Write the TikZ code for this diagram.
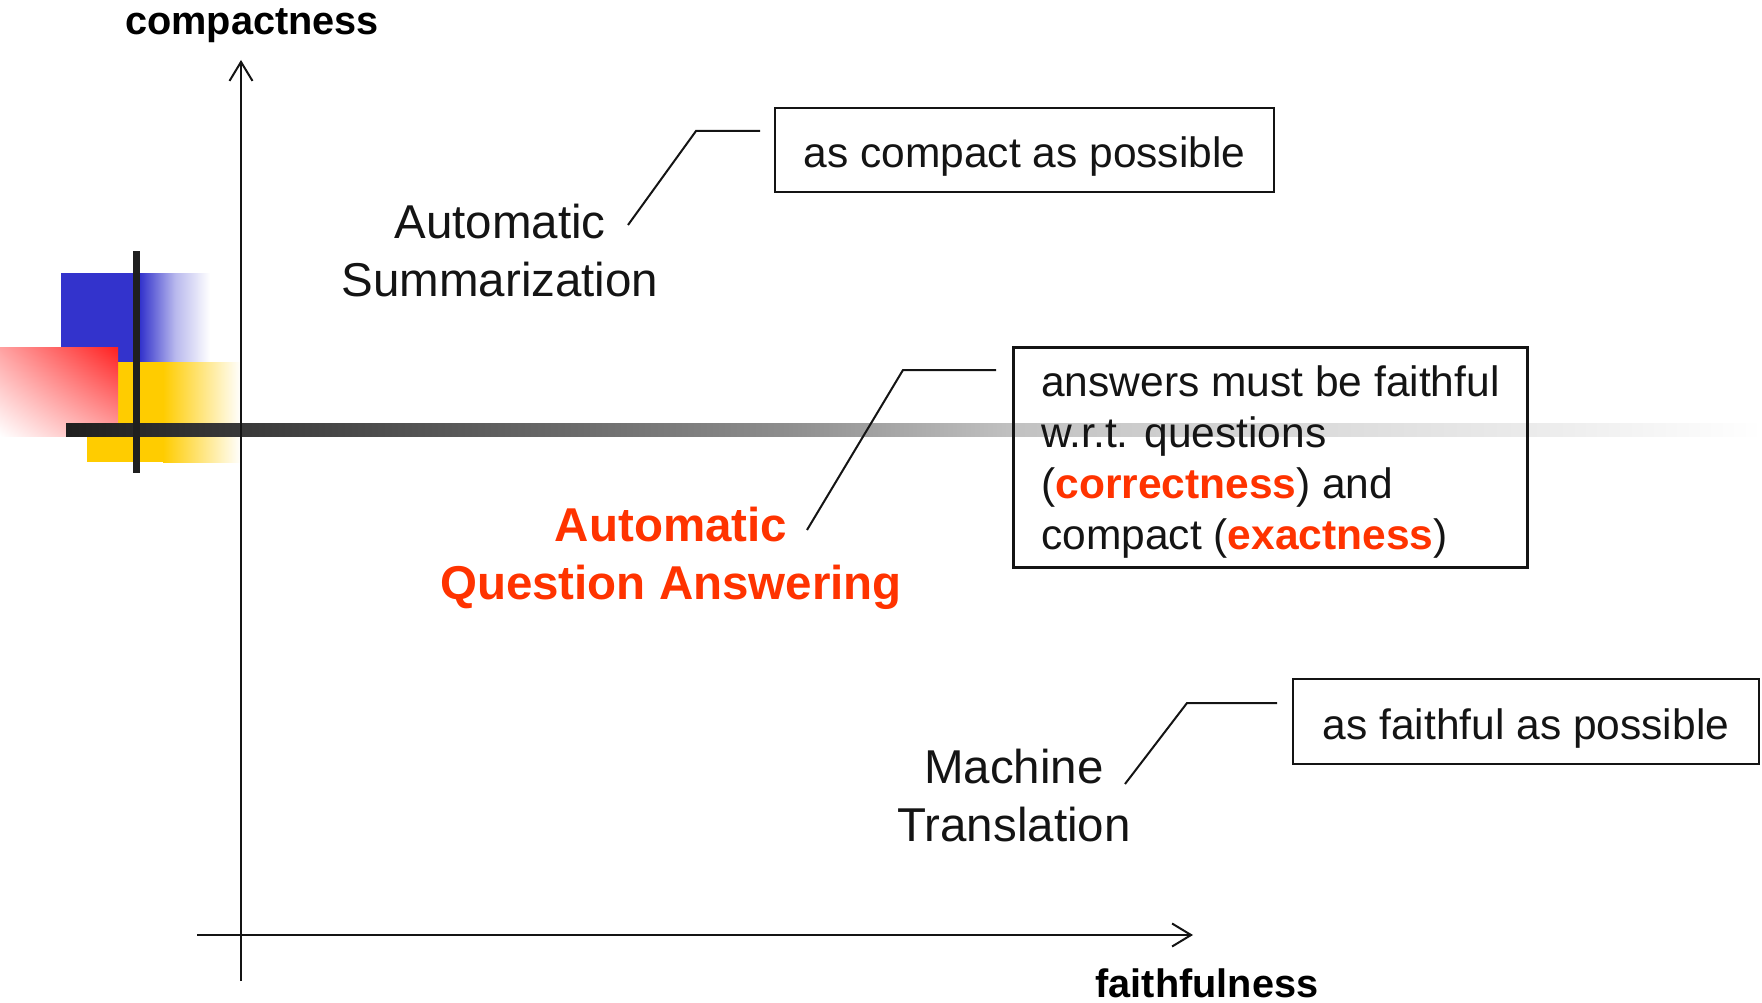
\documentclass[tikz,border=0pt]{standalone}
\usepackage{fontspec}
\setmainfont{Liberation Sans}
\usetikzlibrary{arrows.meta,shadings}

\definecolor{qred}{RGB}{255,51,0}
\definecolor{lblue}{RGB}{51,51,204}
\definecolor{lyellow}{RGB}{255,204,0}
\definecolor{lred}{RGB}{255,32,32}
\definecolor{ink}{RGB}{20,20,20}

% dark bar fading out to the right
\pgfdeclarehorizontalshading{barfade}{100bp}{%
  gray(0bp)=(0.12); gray(25bp)=(0.12); gray(32bp)=(0.26); gray(40bp)=(0.42);
  gray(46bp)=(0.55); gray(53bp)=(0.76); gray(62bp)=(0.86); gray(69bp)=(0.93);
  gray(75bp)=(1); gray(100bp)=(1)}

\tikzset{
  axisline/.style={draw=ink, line width=2.2pt, -{Straight Barb[length=19pt,width=23pt,line width=2pt]}},
  leader/.style={draw=ink, line width=2pt},
  infobox/.style={draw=ink, line width=2.5pt, inner sep=0pt, font=\fontsize{42.5}{51}\selectfont, text=ink},
  onelinebox/.style={infobox, text height=35pt, text depth=0pt},
  tasklabel/.style={align=center, font=\fontsize{47.5}{58}\selectfont, text=ink},
  axislabel/.style={font=\fontsize{39.7}{48}\selectfont\bfseries, text=black}
}
\newcommand{\hl}[1]{{\bfseries\color{qred}#1}}

\begin{document}
\begin{tikzpicture}[x=1pt,y=-1pt]
\useasboundingbox (0,0) rectangle (1762,1003);

% corner logo: three fading blocks and two black bars
\fill[lblue] (61,273) rectangle (141,362);
\shade[left color=lblue, right color=white, middle color=lblue!35] (140,273) rectangle (210,362);
\fill[lyellow] (87,362) rectangle (164,462);
\shade[left color=lyellow, right color=white] (163,362) rectangle (241,462);
\shade[upper right=lred, upper left=lred!42, lower right=lred!40, lower left=white] (0,347) rectangle (118,436);
\shade[shading=barfade] (66,423) rectangle (1762,436);
\fill[black!88] (133,251) rectangle (140,473);

% axes
\coordinate (ybot) at (241,981);
\coordinate (ytop) at (241,60);
\coordinate (xleft) at (197,935);
\coordinate (xright) at (1193,935);
\draw[axisline] (ybot) -- (ytop);
\draw[axisline] (xleft) -- (xright);

\node[axislabel, anchor=base] (ylab) at (252,35) {compactness};
\node[axislabel, anchor=base] (xlab) at (1207,997) {faithfulness};

% task labels
\node[tasklabel] (summ) at (500,251) {Automatic\\Summarization};
\node[tasklabel, text=qred, font=\fontsize{47.5}{58}\selectfont\bfseries] (aqa) at (671,558) {Automatic\\Question Answering};
\node[tasklabel] (mt) at (1014,795.5) {Machine\\Translation};

% explanation boxes
\node[onelinebox, minimum width=499pt, minimum height=84pt] (bsumm) at (1024.5,150) {as compact as possible};
\node[infobox, minimum width=514pt, minimum height=220pt, inner xsep=28pt, align=left, anchor=north west] (baqa) at (1012,346)
  {\rule{0pt}{40pt}answers must be faithful\\w.r.t. questions\\(\hl{correctness}) and\\compact (\hl{exactness})};
\node[onelinebox, minimum width=466pt, minimum height=85pt] (bmt) at (1526,721.5) {as faithful as possible};

% leader lines from labels to boxes
\coordinate (s1) at (628,225);
\coordinate (s2) at (696,131);
\coordinate (s3) at (760,131);
\draw[leader] (s1) -- (s2) -- (s3);

\coordinate (q1) at (807,530);
\coordinate (q2) at (903,370);
\coordinate (q3) at (996,370);
\draw[leader] (q1) -- (q2) -- (q3);

\coordinate (m1) at (1125,784);
\coordinate (m2) at (1187,703);
\coordinate (m3) at (1277,703);
\draw[leader] (m1) -- (m2) -- (m3);
\end{tikzpicture}
\end{document}
